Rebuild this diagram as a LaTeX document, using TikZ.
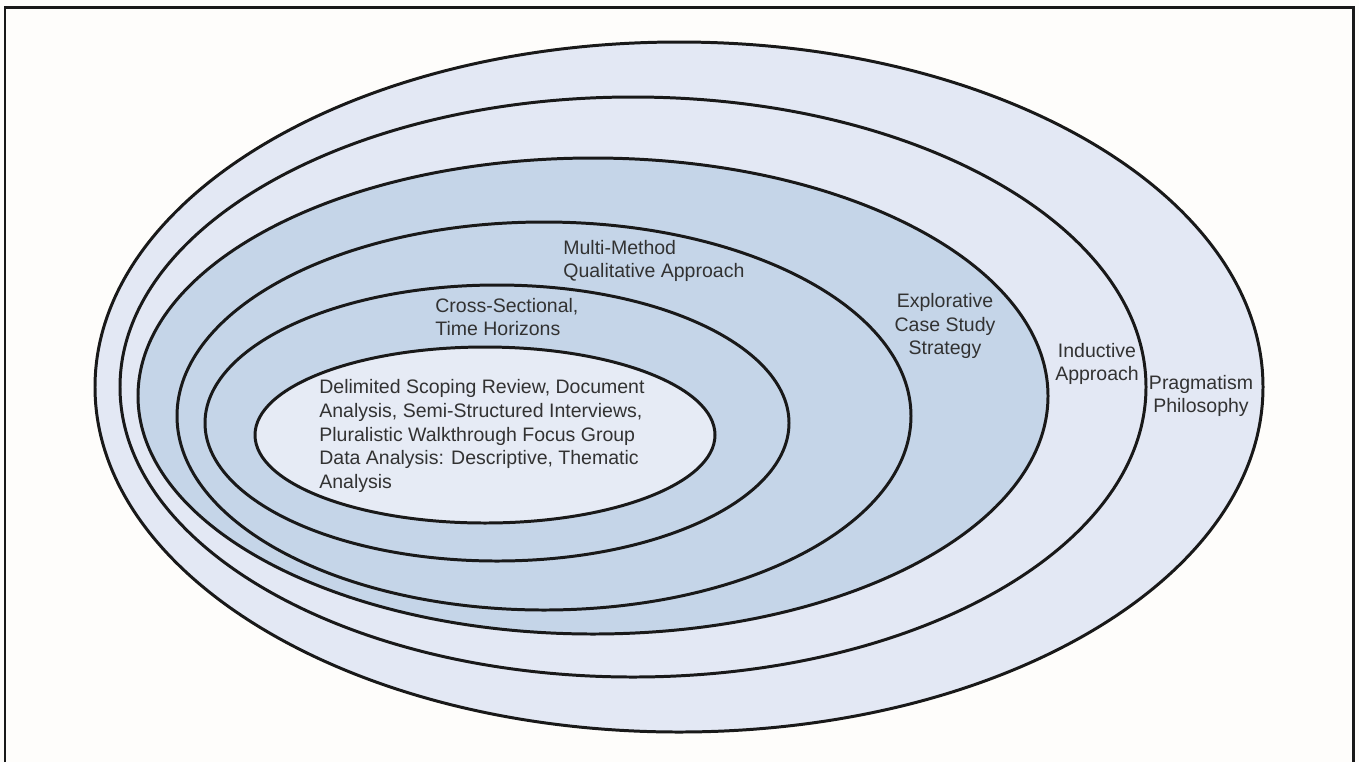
\documentclass[tikz,border=0pt]{standalone}
\usepackage{fontspec}
\setmainfont{Liberation Sans}
\usetikzlibrary{positioning}
\definecolor{OnionLight}{RGB}{227,232,244}
\definecolor{OnionDark}{RGB}{197,213,232}
\definecolor{OnionCore}{RGB}{230,235,245}
\definecolor{OnionText}{RGB}{50,50,50}
\definecolor{OnionPaper}{RGB}{254,253,251}
\tikzset{
  onion/ring/.style={
    draw=black!90,
    line width=1.7pt
  },
  onion/frame/.style={draw=black!90, line width=1.7pt},
  onion/label/.style={
    font=\fontsize{11.1}{13.5}\selectfont,
    text=OnionText,
    inner sep=0pt
  },
  onion/leftlabel/.style={onion/label, align=left, anchor=west},
  onion/midlabel/.style={onion/label, align=center}
}

\begin{document}
\begin{tikzpicture}[x=0.02cm,y=-0.02cm]
  \useasboundingbox[fill=OnionPaper] (0,0) rectangle (1359,762);
  \draw[onion/frame] (5,762) -- (5,7) -- (1353,7) -- (1353,762);
  % layers, outside in
  \foreach \cx/\cy/\rx/\ry/\col in {
    679/387/584/345/OnionLight,633/387/513/290/OnionLight,
    593/396/455/238/OnionDark,544/416/367/194/OnionDark,
    497/423/292/138/OnionDark,485/435/230/88/OnionCore}
  {\filldraw[onion/ring,fill=\col] (\cx,\cy) ellipse [x radius=\rx, y radius=\ry];}
  % labels
  \node[onion/midlabel] (philosophy) at (1201,396) {Pragmatism\\Philosophy};
  \node[onion/midlabel] (approach) at (1097,364) {Inductive\\Approach};
  \node[onion/midlabel] (strategy) at (945,326) {Explorative\\Case Study\\Strategy};
  \node[onion/leftlabel] (choice) at (563,261) {Multi-Method\\Qualitative Approach};
  \node[onion/leftlabel] (horizon) at (435,317) {Cross-Sectional,\\Time Horizons};
  \node[onion/leftlabel] (techniques) at (319,436)
    {Delimited Scoping Review, Document\\Analysis, Semi-Structured Interviews,\\Pluralistic Walkthrough Focus Group\\Data Analysis: Descriptive, Thematic\\Analysis};
\end{tikzpicture}
\end{document}
